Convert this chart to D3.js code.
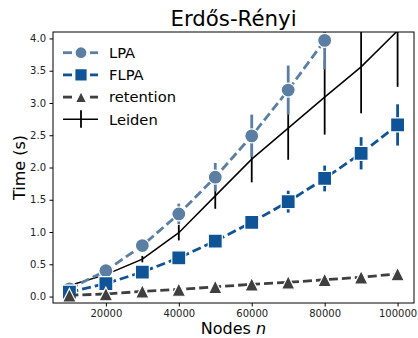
<!DOCTYPE html>
<html>
<head>
<meta charset="utf-8">
<script src="https://cdn.jsdelivr.net/npm/d3@7"></script>
<style>
    body { margin: 0; background: #fff; }
    svg { font-family: "DejaVu Sans", sans-serif; display: block; }
</style>
</head>
<body>
<div id="chart"></div>
<script>
    "use strict";

    var nodes = [10000, 20000, 30000, 40000, 50000, 60000, 70000, 80000, 90000, 100000];
    var xTicks = [20000, 40000, 60000, 80000, 100000];
    var yTicks = [0, 0.5, 1, 1.5, 2, 2.5, 3, 3.5, 4];

    // mean and error half-widths (s)
    var lpaMean = [0.12, 0.40, 0.79, 1.28, 1.85, 2.49, 3.20, 3.97];
    var lpaErr = [0.02, 0.03, 0.05, 0.16, 0.22, 0.33, 0.38, 0.45];
    var flpaMean = [0.07, 0.20, 0.38, 0.60, 0.86, 1.15, 1.47, 1.83, 2.22, 2.66];
    var flpaErr = [0.01, 0.01, 0.02, 0.02, 0.03, 0.05, 0.17, 0.20, 0.25, 0.32];
    var retMean = [0.02, 0.04, 0.08, 0.11, 0.15, 0.19, 0.22, 0.26, 0.30, 0.35];
    var leidenMean = [0.17, 0.34, 0.58, 0.99, 1.56, 2.13, 2.61, 3.09, 3.56, 4.12];
    var leidenErr = [0.01, 0.02, 0.05, 0.12, 0.20, 0.36, 0.49, 0.58, 0.72, 0.87];

    var W = 418, H = 338;
    var margin = {top: 32, right: 4, bottom: 35, left: 53};

    var svg = d3.select("#chart").append("svg")
        .attr("width", W).attr("height", H);

    var x = d3.scaleLinear().domain([5500, 104500]).range([margin.left, W - margin.right]);
    var y = d3.scaleLinear().domain([-0.1, 4.1]).range([H - margin.bottom, margin.top]);

    svg.append("defs").append("clipPath").attr("id", "clip")
        .append("rect")
        .attr("x", margin.left).attr("y", margin.top)
        .attr("width", W - margin.left - margin.right)
        .attr("height", H - margin.top - margin.bottom);

    function pts(means, errs) {
        return means.map(function (m, i) {
            return {n: nodes[i], v: m, e: errs ? errs[i] : 0};
        });
    }

    var plot = svg.append("g").attr("clip-path", "url(#clip)");

    function errorBars(data, color, width) {
        plot.append("g").selectAll("line").data(data).enter().append("line")
            .attr("x1", function (d) { return x(d.n); })
            .attr("x2", function (d) { return x(d.n); })
            .attr("y1", function (d) { return y(d.v - d.e); })
            .attr("y2", function (d) { return y(d.v + d.e); })
            .attr("stroke", color).attr("stroke-width", width);
    }

    function seriesLine(data, color, width, dash) {
        plot.append("path").datum(data)
            .attr("d", d3.line().x(function (d) { return x(d.n); })
                                .y(function (d) { return y(d.v); }))
            .attr("fill", "none").attr("stroke", color)
            .attr("stroke-width", width)
            .attr("stroke-dasharray", dash || null);
    }

    function markers(g, data, shape, size, color) {
        g.selectAll("path.m").data(data).enter().append("path")
            .attr("class", "m")
            .attr("transform", function (d) {
                return "translate(" + x(d.n) + "," + y(d.v) + ")"; })
            .attr("d", markerPath(shape, size))
            .attr("fill", color).attr("stroke", "#fff").attr("stroke-width", 1.2);
    }

    function markerPath(shape, r) {
        if(shape === "circle") {
            return d3.symbol().type(d3.symbolCircle).size(Math.PI * r * r)(); }
        if(shape === "square") {
            return "M" + (-r) + "," + (-r) + "H" + r + "V" + r + "H" + (-r) + "Z"; }
        return "M0," + (-r) + "L" + r + "," + r + "L" + (-r) + "," + r + "Z";  //triangle up
    }

    var cLPA = "#5a7fa3", cFLPA = "#0e5496", cRet = "#3f3f3f";

    //Leiden goes under the rest
    var leiden = pts(leidenMean, leidenErr);
    errorBars(leiden, "#000", 1.8);
    seriesLine(leiden, "#000", 1.5);

    var lpa = pts(lpaMean, lpaErr);
    seriesLine(lpa, cLPA, 2.8, "9,4");
    errorBars(lpa, cLPA, 2.8);
    markers(plot.append("g"), lpa, "circle", 7, cLPA);

    var flpa = pts(flpaMean, flpaErr);
    seriesLine(flpa, cFLPA, 2.8, "9,4");
    errorBars(flpa, cFLPA, 2.8);
    markers(plot.append("g"), flpa, "square", 7, cFLPA);

    var ret = pts(retMean);
    seriesLine(ret, cRet, 2.8, "9,4");
    markers(plot.append("g"), ret, "triangle", 6.8, cRet);

    //axes
    var xAxis = d3.axisBottom(x).tickValues(xTicks).tickFormat(d3.format("d"))
        .tickSizeInner(3.5).tickSizeOuter(0).tickPadding(3.5);
    var yAxis = d3.axisLeft(y).tickValues(yTicks).tickFormat(d3.format(".1f"))
        .tickSizeInner(3.5).tickSizeOuter(0).tickPadding(3.5);
    var gx = svg.append("g")
        .attr("transform", "translate(0," + (H - margin.bottom) + ")")
        .call(xAxis);
    var gy = svg.append("g")
        .attr("transform", "translate(" + margin.left + ",0)")
        .call(yAxis);
    [gx, gy].forEach(function (g) {
        g.select(".domain").remove();
        g.selectAll(".tick line").attr("stroke", "#000").attr("stroke-width", 1);
        g.selectAll(".tick text").attr("fill", "#222")
            .style("font-family", "DejaVu Sans").style("font-size", "10px");
    });

    svg.append("rect")
        .attr("x", margin.left).attr("y", margin.top)
        .attr("width", W - margin.left - margin.right)
        .attr("height", H - margin.top - margin.bottom)
        .attr("fill", "none").attr("stroke", "#000").attr("stroke-width", 1);

    //titles
    var cx = (margin.left + W - margin.right) / 2;
    svg.append("text").attr("x", cx).attr("y", 26)
        .attr("text-anchor", "middle").style("font-size", "21.3px")
        .text("Erdős-Rényi");
    var xl = svg.append("text").attr("x", cx).attr("y", 334)
        .attr("text-anchor", "middle").style("font-size", "16px");
    xl.append("tspan").text("Nodes ");
    xl.append("tspan").style("font-style", "italic").text("n");
    svg.append("text")
        .attr("transform", "translate(25," + ((margin.top + H - margin.bottom) / 2) + ") rotate(-90)")
        .attr("text-anchor", "middle").style("font-size", "16px")
        .text("Time (s)");

    //legend
    var legendItems = [
        {label: "LPA", color: cLPA, shape: "circle", r: 6},
        {label: "FLPA", color: cFLPA, shape: "square", r: 6.2},
        {label: "retention", color: cRet, shape: "triangle", r: 5.5},
        {label: "Leiden", color: "#000", shape: "bar"}
    ];
    var lg = svg.append("g");
    legendItems.forEach(function (it, i) {
        var ly = 52.7 + i * 22.2;
        var g = lg.append("g").attr("transform", "translate(0," + ly + ")");
        if(it.shape === "bar") {
            g.append("line").attr("x1", 63).attr("x2", 98).attr("y1", 0).attr("y2", 0)
                .attr("stroke", "#000").attr("stroke-width", 1.5);
            g.append("line").attr("x1", 81).attr("x2", 81).attr("y1", -9).attr("y2", 8.5)
                .attr("stroke", "#000").attr("stroke-width", 1.8);
        } else {
            g.append("line").attr("x1", 63).attr("x2", 72).attr("y1", 0).attr("y2", 0)
                .attr("stroke", it.color).attr("stroke-width", 2.8);
            g.append("line").attr("x1", 90).attr("x2", 98).attr("y1", 0).attr("y2", 0)
                .attr("stroke", it.color).attr("stroke-width", 2.8);
            g.append("path").attr("transform", "translate(81,0)")
                .attr("d", markerPath(it.shape, it.r))
                .attr("fill", it.color).attr("stroke", "#fff").attr("stroke-width", 1.2);
        }
        g.append("text").attr("x", 109).attr("y", 0).attr("dy", "0.36em")
            .style("font-size", "14.7px").text(it.label);
    });
</script>
</body>
</html>
